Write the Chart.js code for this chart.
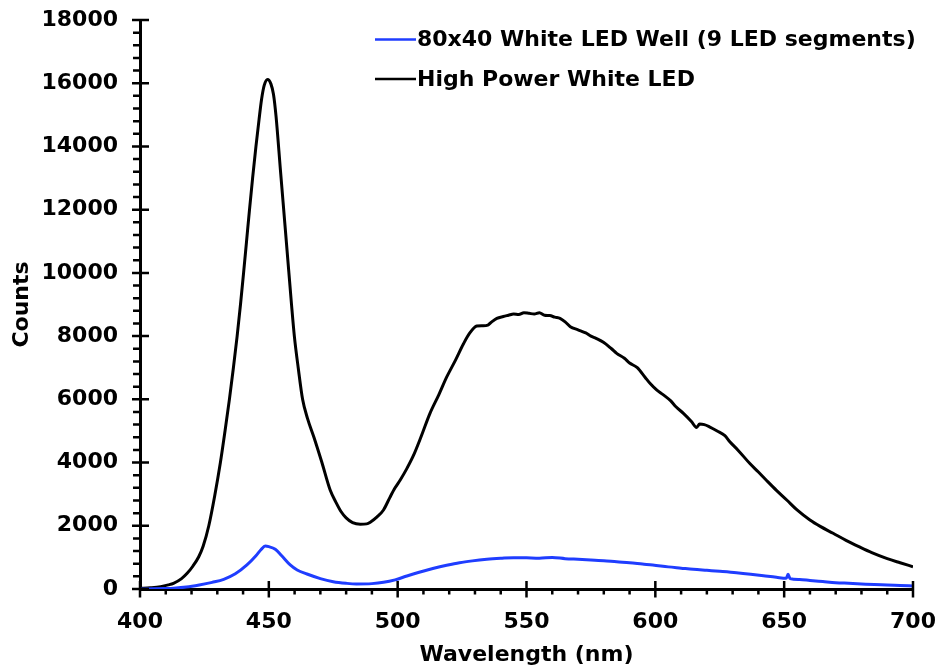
<!DOCTYPE html>
<html><head><meta charset="utf-8">
<script src="https://cdn.jsdelivr.net/npm/chart.js@4/dist/chart.umd.min.js"></script>
<style>html,body{margin:0;padding:0;background:#fff}#wrap{width:940px;height:669px}</style>
</head><body><div id="wrap"><canvas id="c" width="940" height="669"></canvas></div>
<script>
const seriesNames = ['80x40 White LED Well (9 LED segments)', 'High Power White LED'];
const seriesColors = ['#1f3dff', '#000000'];
const xTickLabels = [400, 450, 500, 550, 600, 650, 700];
const yTickLabels = [0, 2000, 4000, 6000, 8000, 10000, 12000, 14000, 16000, 18000];
const xTitle = 'Wavelength (nm)';
const yTitle = 'Counts';

const blueWl = [400,405,410,413,418,423,428,432.5,437,441.5,445,447,448.6,450,452.5,455,458.3,461,464.8,470,475,480,484,490,494.5,499,503.6,508,514,519,524,529,534.6,540,545,550,555,560,565,570,575,580,585,590,595,599,605,610,614.7,620,625,631.5,637,642,647,650.8,651.5,652.3,656,660,665,670,675,680,685,690,695,700];
const blueCounts = [0,5,15,25,60,126,210,306,480,760,1050,1250,1360,1340,1255,1050,760,600,474,330,232,180,158,170,211,290,411,520,654,750,833,890,938,970,992,985,975,1000,960,940,920,895,860,830,790,760,700,660,622,590,560,517,470,420,370,338,465,330,300,270,235,200,180,160,140,127,110,95];

const blackWl = [400,404,408,411,413,416,418.3,420.5,422.8,424.5,426.7,429,431.2,433,434.7,436.25,437.7,439,440.2,441.35,442.5,443.7,445,446.2,447.2,448.2,449.5,450.8,451.8,452.8,454.5,456.1,457.7,458.8,459.9,461.4,463.1,465,467.5,470.6,473.8,476,478,480,482.5,485.5,488,489.5,492,494.5,497,499,501,503.5,506,509,512.5,516,519,522.5,525.5,528,530.7,533,535,536.5,538.5,541,543,545,547,549,551,553,555,557,559,561,563,565,567,570,573,575,577,580,583,585,588,590,593,596,598,600.5,603,606,608,611,614,616,617.2,619,621,624,627,629,632,636.6,640,643,647,651,655,660,664,669,674,679,684,690,695,700];
const blackCounts = [20,40,75,130,180,320,496,720,1020,1350,2000,2950,4000,5000,6000,7000,8000,9000,10000,11000,12000,13000,14000,14850,15500,15930,16120,15980,15650,14950,13253,11672,10090,9000,8000,7000,6000,5400,4800,4000,3130,2750,2450,2250,2100,2050,2060,2120,2280,2500,2900,3200,3450,3800,4200,4800,5550,6150,6700,7250,7750,8100,8320,8330,8350,8450,8560,8620,8660,8700,8680,8740,8720,8700,8740,8660,8650,8600,8560,8450,8300,8200,8100,8000,7930,7800,7600,7455,7300,7150,7000,6700,6500,6300,6150,5950,5766,5550,5300,5110,5220,5200,5130,5000,4850,4650,4400,3976,3700,3448,3120,2815,2500,2182,1980,1762,1540,1339,1150,960,830,705];

const FONT = {family: '"DejaVu Sans", sans-serif', size: 22, weight: 'bold'};

function pts(xs, ys) { return xs.map((v, i) => ({x: v, y: ys[i]})); }

const tickPlugin = {
  id: 'axisTicks',
  afterDraw(chart) {
    const {ctx, scales: {x, y}, chartArea: a} = chart;
    ctx.save();
    ctx.strokeStyle = '#000';
    ctx.lineWidth = 2.5;
    ctx.beginPath();
    for (let v = xTickLabels[0]; v <= xTickLabels[xTickLabels.length - 1]; v += 10) {
      const px = x.getPixelForValue(v);
      const major = xTickLabels.includes(v);
      ctx.moveTo(px, major ? a.bottom - 8 : a.bottom);
      ctx.lineTo(px, a.bottom + (major ? 8.5 : 5.5));
    }
    for (let v = 0; v <= yTickLabels[yTickLabels.length - 1]; v += 400) {
      const py = y.getPixelForValue(v);
      const major = yTickLabels.includes(v);
      ctx.moveTo(a.left - (major ? 8 : 7), py);
      ctx.lineTo(major ? a.left + 9 : a.left, py);
    }
    ctx.stroke();
    ctx.font = 'bold 22px "DejaVu Sans", sans-serif';
    ctx.textBaseline = 'middle';
    ctx.textAlign = 'left';
    const rows = [39.5, 79];
    chart.data.datasets.forEach((ds, i) => {
      ctx.strokeStyle = ds.borderColor;
      ctx.lineWidth = 2.5;
      ctx.beginPath();
      ctx.moveTo(375, rows[i]);
      ctx.lineTo(416, rows[i]);
      ctx.stroke();
      ctx.fillStyle = '#000';
      ctx.fillText(ds.label, 417, rows[i] + 1);
    });
    ctx.restore();
  }
};

new Chart(document.getElementById('c'), {
  type: 'scatter',
  data: {
    datasets: [
      {label: seriesNames[0], data: pts(blueWl, blueCounts), borderColor: seriesColors[0], showLine: true, pointRadius: 0, borderWidth: 3, cubicInterpolationMode: 'monotone'},
      {label: seriesNames[1], data: pts(blackWl, blackCounts), borderColor: seriesColors[1], showLine: true, pointRadius: 0, borderWidth: 3, cubicInterpolationMode: 'monotone'}
    ]
  },
  options: {
    responsive: false,
    animation: false,
    devicePixelRatio: 1,
    layout: {padding: {left: 0, right: 27, top: 20, bottom: 0}},
    plugins: {legend: {display: false}, tooltip: {enabled: false}},
    scales: {
      x: {
        type: 'linear', min: 400, max: 700, position: 'bottom',
        afterBuildTicks: s => { s.ticks = xTickLabels.map(v => ({value: v})); },
        afterFit: s => { s.height = 80; s.paddingLeft = 0; s.paddingRight = 0; },
        ticks: {font: FONT, color: '#000', padding: 20, maxRotation: 0, autoSkip: false},
        grid: {display: false, drawTicks: false},
        border: {display: true, color: '#000', width: 3},
        title: {display: true, text: xTitle, font: FONT, color: '#000', padding: {top: 0, bottom: 1}}
      },
      y: {
        type: 'linear', min: 0, max: 18000, position: 'left',
        afterBuildTicks: s => { s.ticks = yTickLabels.map(v => ({value: v})); },
        afterFit: s => { s.width = 140; s.paddingTop = 0; s.paddingBottom = 0; },
        ticks: {font: FONT, color: '#000', padding: 22, autoSkip: false, callback: v => String(v)},
        grid: {display: false, drawTicks: false},
        border: {display: true, color: '#000', width: 3},
        title: {display: true, text: yTitle, font: FONT, color: '#000', padding: {top: 9, bottom: 0}}
      }
    }
  },
  plugins: [tickPlugin]
});
</script></body></html>
